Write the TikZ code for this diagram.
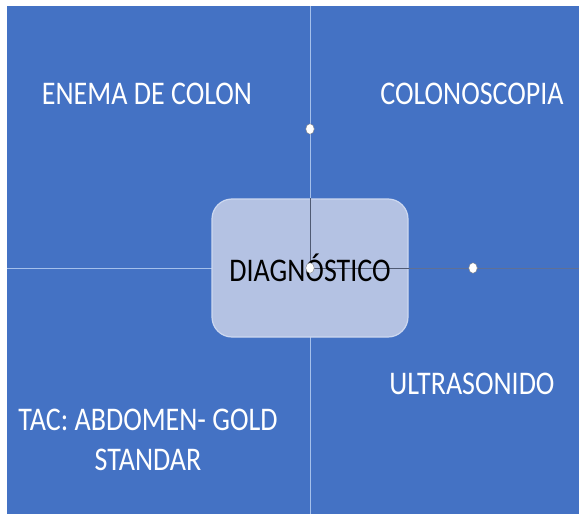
\documentclass[tikz,border=0pt]{standalone}
\usepackage{fontspec}
\usepackage{graphicx}
\setmainfont{Carlito}
\usetikzlibrary{positioning}
\usetikzlibrary{calc}
\usetikzlibrary{shapes.geometric}
\definecolor{fondo}{RGB}{68,114,196}
\definecolor{caja}{RGB}{180,194,227}
\definecolor{borde}{RGB}{205,216,240}
\definecolor{linea}{RGB}{165,192,235}
\definecolor{gris}{RGB}{80,90,115}
\definecolor{grisazul}{RGB}{95,112,150}
\newcommand{\alto}[1]{\scalebox{1}[1.18]{#1}}

\begin{document}
\begin{tikzpicture}[x=1pt,y=-1pt]
\tikzset{
 titulo/.style={text=white, font=\fontsize{28}{40}\selectfont, align=center, inner sep=0},
 punto/.style={ellipse, fill=white, draw=gray, line width=.4pt, inner sep=0, minimum width=8.5pt, minimum height=10.5pt}
}
\useasboundingbox (0,0) rectangle (579,514);
\fill[fondo] (7,6) rectangle (579,514);
\coordinate (arriba) at (310,6);
\coordinate (abajo) at (310,514);
\coordinate (izq) at (7,268);
\coordinate (der) at (579,268);
% lineas claras
\draw[linea, line width=1pt] (arriba)--(abajo);
\draw[linea, line width=1pt] (izq)--(310,268);
\draw[grisazul, line width=.8pt] (310,268)--(der);
% caja central
\node[fill=caja, draw=borde, line width=1.2pt, rounded corners=20pt, minimum width=196pt, minimum height=138pt, inner sep=0] (diag) at (310,268) {};
\draw[gris, line width=.8pt] (diag.north)--(diag.center)--(diag.east);
\node[font=\fontsize{28}{36}\selectfont, text=black, inner sep=0] at (diag.center) {\alto{DIAGNÓSTICO}};
% puntos
\node[punto] (p1) at (310,129) {};
\node[punto] (p2) at (473,268) {};
\node[punto] (p3) at (diag.center) {};
% textos
\node[titulo] (enema) at (147,94) {\alto{ENEMA DE COLON}};
\node[titulo] (colono) at (472,94) {\alto{COLONOSCOPIA}};
\node[titulo] (ultra) at (472,384) {\alto{ULTRASONIDO}};
\node[titulo] (tac) at (148,440) {\alto{TAC: ABDOMEN- GOLD}\\\alto{STANDAR}};
\end{tikzpicture}
\end{document}
